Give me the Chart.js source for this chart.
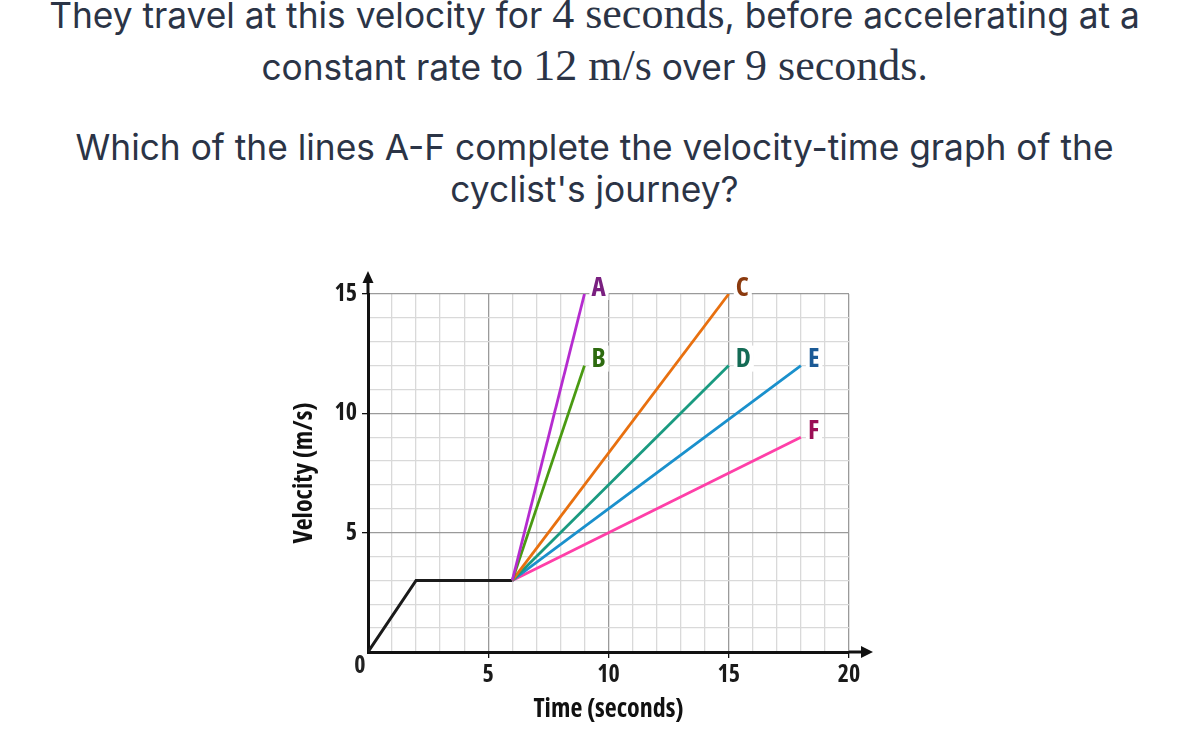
<!DOCTYPE html>
<html><head><meta charset="utf-8">
<script src="https://cdn.jsdelivr.net/npm/chart.js@4"></script>
<style>
html,body{margin:0;padding:0;background:#fff;width:1189px;height:734px;overflow:hidden;}
.q{position:absolute;left:0;width:1189px;text-align:center;font-family:Inter,'Noto Sans',sans-serif;font-size:35.3px;line-height:44px;color:#2b3446;white-space:nowrap;}
.m{font-family:'Liberation Serif',serif;font-size:44px;}
#wrap{position:absolute;left:280px;top:250px;width:630px;height:484px;}
</style></head>
<body>
<div class="q" style="top:-8px">They travel at this velocity for <span class="m">4 seconds</span>, before accelerating at a</div>
<div class="q" style="top:44px">constant rate to <span class="m">12 m/s</span> over <span class="m">9 seconds</span>.</div>
<div class="q" style="top:126px">Which of the lines A-F complete the velocity-time graph of the</div>
<div class="q" style="top:168px">cyclist's journey?</div>
<div id="wrap"><canvas id="c"></canvas></div>
<script>
// Journey (given part)
const journeyTime = [0, 2, 6];
const journeyVelocity = [0, 3, 3];
// Candidate lines A-F, all starting at the end of the journey
const lineNames = ['A', 'B', 'C', 'D', 'E', 'F'];
const lineEndTime = [9, 9, 15, 15, 18, 18];
const lineEndVelocity = [15, 12, 15, 12, 12, 9];
// Axis ticks
const xTickLabels = [5, 10, 15, 20];
const yTickLabels = [5, 10, 15];

const lineColors = ['#b52ccf', '#4a9a12', '#e8700f', '#1a9a80', '#1a90cc', '#ff3fa8'];
const labelColors = ['#7a2080', '#2d6a0f', '#8b3a0e', '#146b55', '#1b5a96', '#9b0f55'];
const FONT = "'Open Sans','DejaVu Sans Condensed',sans-serif";
const WEIGHT = 'bold condensed';

const startT = journeyTime[journeyTime.length - 1];
const startV = journeyVelocity[journeyVelocity.length - 1];

const datasets = lineNames.map((n, i) => ({
  label: n,
  data: [{x: startT, y: startV}, {x: lineEndTime[i], y: lineEndVelocity[i]}],
  borderColor: lineColors[i], borderWidth: 2.8, showLine: true, pointRadius: 0, fill: false
}));
datasets.push({
  label: 'journey',
  data: journeyTime.map((t, i) => ({x: t, y: journeyVelocity[i]})),
  borderColor: '#1a1a1a', borderWidth: 3, showLine: true, pointRadius: 0, fill: false,
  borderJoinStyle: 'miter'
});

const decor = {
  id: 'decor',
  afterDraw(chart) {
    const ctx = chart.ctx, a = chart.chartArea;
    const xs = chart.scales.x, ys = chart.scales.y;
    const x0 = xs.getPixelForValue(0), y0 = ys.getPixelForValue(0);
    ctx.save();
    ctx.strokeStyle = '#111'; ctx.fillStyle = '#111'; ctx.lineWidth = 3;
    ctx.beginPath(); ctx.moveTo(x0, a.top); ctx.lineTo(x0, a.top - 14); ctx.stroke();
    ctx.beginPath(); ctx.moveTo(x0, a.top - 23); ctx.lineTo(x0 - 5.5, a.top - 11); ctx.lineTo(x0 + 5.5, a.top - 11); ctx.closePath(); ctx.fill();
    ctx.beginPath(); ctx.moveTo(a.right, y0); ctx.lineTo(a.right + 14, y0); ctx.stroke();
    ctx.beginPath(); ctx.moveTo(a.right + 24, y0); ctx.lineTo(a.right + 12, y0 - 6); ctx.lineTo(a.right + 12, y0 + 6); ctx.closePath(); ctx.fill();
    ctx.font = WEIGHT + " 24px " + FONT; ctx.textAlign = 'center'; ctx.textBaseline = 'middle';
    ctx.fillStyle = '#222';
    ctx.fillText('0', x0 - 8, y0 + 14);
    ctx.font = WEIGHT + " 27px " + FONT; ctx.textAlign = 'left';
    lineNames.forEach((n, i) => {
      const meta = chart.getDatasetMeta(i);
      const p = meta.data[meta.data.length - 1];
      const tx = p.x + 7, ty = p.y - 7;
      const w = ctx.measureText(n).width;
      ctx.fillStyle = '#fff';
      ctx.fillRect(tx - 2, ty - 13, w + 5, 26);
      ctx.fillStyle = labelColors[i];
      ctx.fillText(n, tx, ty + 1);
    });
    ctx.restore();
  }
};

const isMajor = v => v % 5 === 0;
new Chart(document.getElementById('c'), {
  type: 'scatter',
  data: {datasets},
  options: {
    responsive: true, maintainAspectRatio: false, animation: false,
    layout: {padding: {top: 44, right: 61, left: 0, bottom: 0}},
    plugins: {legend: {display: false}, tooltip: {enabled: false}},
    scales: {
      x: {
        type: 'linear', min: 0, max: 20,
        afterFit: s => { s.height = 82; },
        ticks: {stepSize: 1, autoSkip: false, maxRotation: 0, padding: 3, color: '#1a1a1a',
          font: {family: FONT, size: 24, weight: WEIGHT},
          callback: v => xTickLabels.includes(v) ? String(v) : ''},
        grid: {color: c => isMajor(c.tick.value) ? '#9a9a9a' : '#d9d9d9', lineWidth: 1.3,
          tickLength: 6, tickColor: c => (isMajor(c.tick.value) && c.tick.value !== 0) ? '#111' : 'rgba(0,0,0,0)'},
        border: {color: '#111', width: 3},
        title: {display: true, text: 'Time (seconds)', color: '#111',
          font: {family: FONT, size: 26, weight: WEIGHT}, padding: {top: 0, bottom: 9}}
      },
      y: {
        min: 0, max: 15,
        afterFit: s => { s.width = 88; },
        ticks: {stepSize: 1, autoSkip: false, padding: 5, color: '#1a1a1a',
          font: {family: FONT, size: 24, weight: WEIGHT},
          callback: v => yTickLabels.includes(v) ? String(v) : ''},
        grid: {color: c => isMajor(c.tick.value) ? '#9a9a9a' : '#d9d9d9', lineWidth: 1.3,
          tickLength: 6, tickColor: c => (isMajor(c.tick.value) && c.tick.value !== 0) ? '#111' : 'rgba(0,0,0,0)'},
        border: {color: '#111', width: 3},
        title: {display: true, text: 'Velocity (m/s)', color: '#111',
          font: {family: FONT, size: 26, weight: WEIGHT}, padding: {top: 9, bottom: 0}}
      }
    }
  },
  plugins: [decor]
});
</script>
</body></html>
